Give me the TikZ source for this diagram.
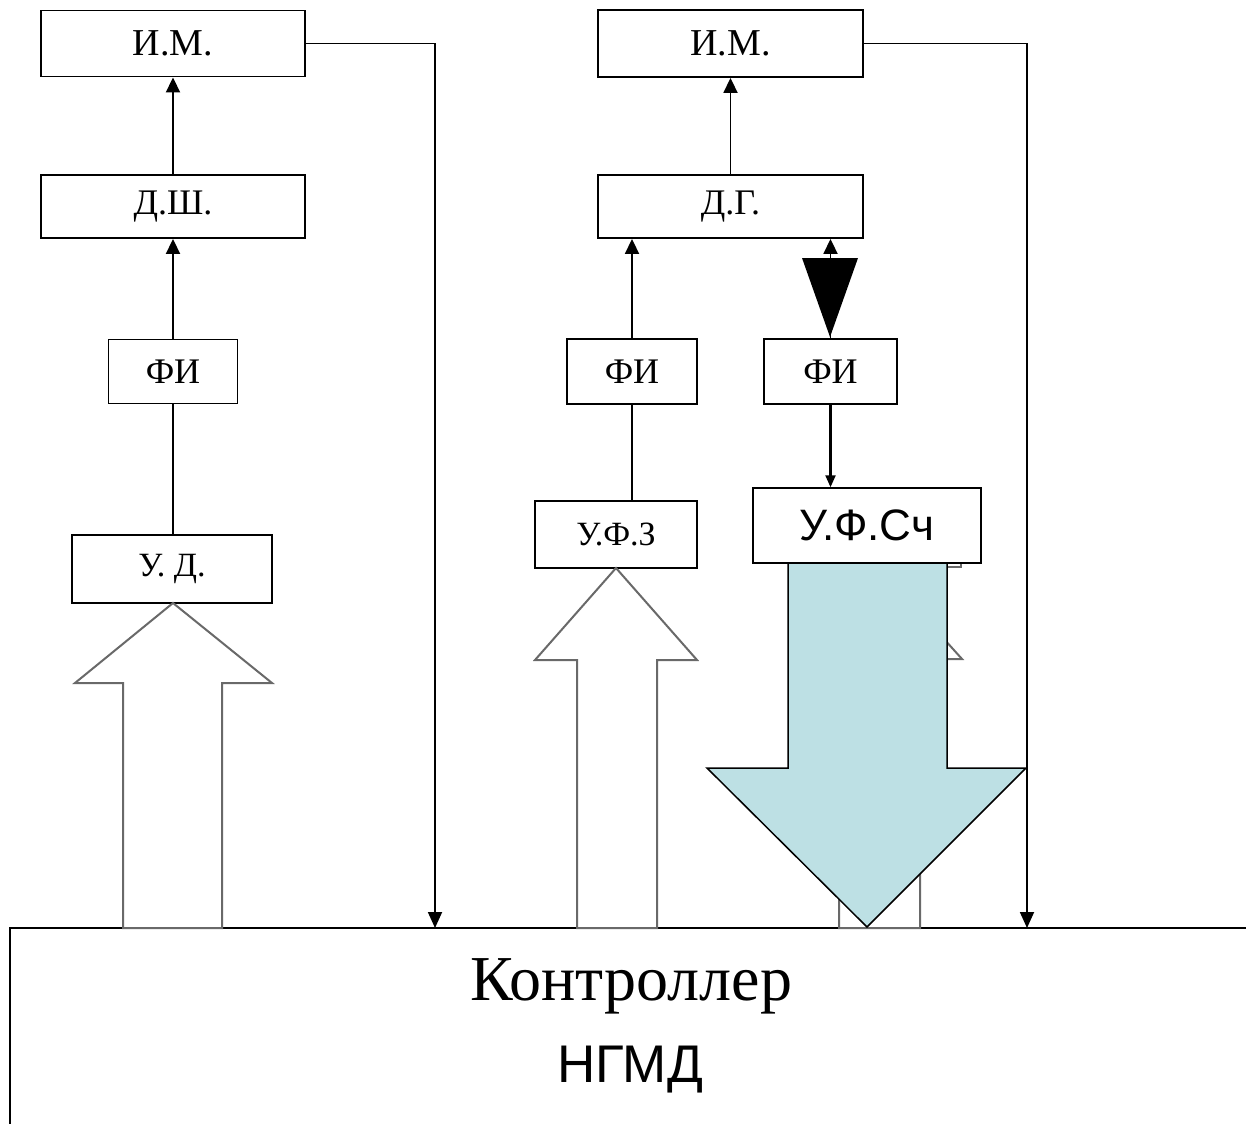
\documentclass[tikz,border=0pt]{standalone}
\usepackage{fontspec}
\usepackage{graphicx}
\setmainfont{Liberation Serif}
\newfontfamily\boxfont{Liberation Serif}
\newfontfamily\sansf{Liberation Sans}
\usetikzlibrary{arrows.meta}
\definecolor{hollowgray}{RGB}{105,105,105}
\definecolor{bluefill}{RGB}{189,224,228}
\tikzset{
  blk/.style={draw, line width=1.9pt, fill=white, inner sep=0pt, font=\boxfont},
  conn/.style={line width=1.9pt, -{Triangle[width=14pt,length=15pt]}},
  plain/.style={line width=1.9pt},
  fb/.style={line width=1.8pt, -{Triangle[width=14pt,length=16pt]}},
  hollow/.style={draw=hollowgray, line width=2pt, fill=white, line join=miter},
}
\begin{document}
\begin{tikzpicture}[x=1pt,y=-1pt]
\useasboundingbox (0,0) rectangle (1246,1124);
% controller
\coordinate (ctlR) at (1246,928);
\coordinate (ctlL) at (10,928);
\coordinate (ctlB) at (10,1124);
\draw[line width=1.9pt] (ctlR) -- (ctlL) -- (ctlB);
\node[anchor=base, font=\fontsize{64}{70}\selectfont] (ctltxt) at (631,1000) {Контроллер};
\node[anchor=base, font=\sansf\fontsize{53}{60}\selectfont] (ngmd) at (630,1082) {НГМД};

% left column
\node[blk, minimum width=264pt, minimum height=66pt, font=\boxfont\fontsize{38}{44}\selectfont] (im1) at (173,43.5) {И.М.};
\node[blk, minimum width=264pt, minimum height=63pt, font=\boxfont\fontsize{36}{42}\selectfont] (ds) at (173,206.5) {Д.Ш.};
\node[blk, minimum width=129pt, minimum height=64pt, font=\boxfont\fontsize{36}{42}\selectfont] (fi1) at (173,371.5) {ФИ};
\node[blk, minimum width=200pt, minimum height=68pt, font=\boxfont\fontsize{34}{40}\selectfont] (ud) at (172,569) {У. Д.};
\draw[hollow] (173,603) -- (272,683) -- (222,683) -- (222,928) -- (123,928) -- (123,683) -- (75,683) -- cycle;

\draw[conn] (ds.north) -- (im1.south);
\draw[conn] (fi1.north) -- (ds.south);
\draw[plain] (fi1.south) -- (fi1.south |- ud.north);
\coordinate (c1) at (435,928);
\draw[fb] (im1.east) -- (im1.east -| c1) -- (c1);

% right column
\node[blk, minimum width=265pt, minimum height=67pt, font=\boxfont\fontsize{38}{44}\selectfont] (im2) at (730.5,43.5) {И.М.};
\node[blk, minimum width=265pt, minimum height=63pt, font=\boxfont\fontsize{36}{42}\selectfont] (dg) at (730.5,206.5) {Д.Г.};
\node[blk, minimum width=130pt, minimum height=65pt, font=\boxfont\fontsize{36}{42}\selectfont] (fi2) at (632,371.5) {ФИ};
\node[blk, minimum width=133pt, minimum height=65pt, font=\boxfont\fontsize{36}{42}\selectfont] (fi3) at (830.5,371.5) {ФИ};
\node[blk, minimum width=162pt, minimum height=67pt, font=\boxfont\fontsize{34}{40}\selectfont] (ufz) at (616,534.5) {У.Ф.З};
\draw[hollow] (616,568) -- (697,660) -- (657,660) -- (657,928) -- (577,928) -- (577,660) -- (535,660) -- cycle;

\draw[conn] (dg.north) -- (im2.south);
\draw[conn] (fi2.north) -- (fi2.north |- dg.south);
\draw[plain] (fi2.south) -- (fi2.south |- ufz.north);
\draw[conn] (fi3.north) -- (fi3.north |- dg.south);
\coordinate (tl) at (802,258);
\coordinate (tr) at (858,258);
\coordinate (tt) at (830,337);
\fill[black] (tl) -- (tr) -- (tt) -- cycle;

\coordinate (c2) at (1027,928);
\draw[fb] (im2.east) -- (im2.east -| c2) -- (c2);

% hidden original block and hollow arrow
\node[draw=hollowgray, line width=1.8pt, fill=white, minimum width=162pt, minimum height=67pt, inner sep=0pt] (hid) at (880,533.5) {};
\draw[hollow] (880,568) -- (962,659) -- (920,659) -- (920,928) -- (839,928) -- (839,659) -- (798,659) -- cycle;

% blue arrow
\draw[line width=1.5pt, fill=bluefill, line join=miter] (788,563) -- (947,563) -- (947,768) -- (1026,768) -- (867,927) -- (707,768) -- (788,768) -- cycle;

\node[draw, line width=1.5pt, fill=white, minimum width=228pt, minimum height=75pt, inner sep=0pt, font=\sansf\fontsize{44}{50}\selectfont] (ufsch) at (867,525.5) {У.Ф.Сч};
\draw[line width=2.2pt, -{Triangle[width=10pt,length=12pt]}] (fi3.south) -- (fi3.south |- ufsch.north);
\end{tikzpicture}
\end{document}
